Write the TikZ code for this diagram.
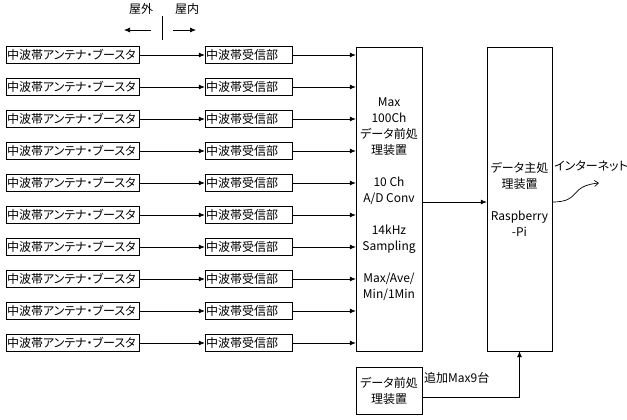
\documentclass[tikz,border=0pt]{standalone}
\usepackage{fontspec}
\setmainfont[RawFeature=+palt]{Noto Sans CJK JP}
\usetikzlibrary{arrows.meta,positioning,calc}

\begin{document}
\begin{tikzpicture}[x=1pt, y=-1pt,
  box/.style={draw, rectangle, minimum height=17pt, inner sep=1pt, font=\fontsize{12}{13}\selectfont},
  ant/.style={box, text width=131pt, align=left},
  rx/.style={box, text width=85pt, align=left},
  proc/.style={draw, rectangle, inner sep=0pt, align=center, font=\fontsize{12}{16}\selectfont},
  lbl/.style={inner sep=0pt, font=\fontsize{12}{13}\selectfont},
  arr/.style={-{Latex[length=6pt,width=5pt]}, line width=0.7pt}
]
\useasboundingbox (0,0) rectangle (627,420);

% processing units
\node[proc, minimum width=66pt, minimum height=304pt] (pre) at (389,199)
  {Max\\100Ch\\データ前処\\理装置\\[16pt]10 Ch\\A/D Conv\\[16pt]14kHz\\Sampling\\[16pt]Max/Ave/\\Min/1Min};
\node[proc, minimum width=65pt, minimum height=304pt] (main) at (519.5,199)
  {データ主処\\理装置\\[16pt]Raspberry\\-Pi};
\node[proc, minimum width=66pt, minimum height=47pt] (pre2) at (389,390.5) {データ前処\\理装置};

% antenna / receiver rows
\foreach \i [evaluate=\i as \y using 23+32*\i] in {1,...,10} {
  \node[ant] (ant\i) at (72.5,\y) {中波帯アンテナ・ブースタ};
  \node[rx] (rx\i) at (248.5,\y) {中波帯受信部};
  \draw[arr] (ant\i) -- (rx\i);
  \draw[arr] (rx\i) -- (rx\i -| pre.west);
}

\draw[arr] ([yshift=-3pt]pre.east) -- ([yshift=-3pt]main.west);

% internet
\node[lbl, anchor=west] (net) at (554,166) {インターネット};
\coordinate (nettip) at (599,183);
\draw[-{Straight Barb[length=4pt,width=6pt]}, line width=0.7pt] ([yshift=-3pt]main.east)
  .. controls (582,202) and (568,186) .. (nettip);

% extra units
\draw[arr] ([yshift=-6.5pt]pre2.east) -| (main.south);
\node[lbl, anchor=west] (extra) at (424,378) {追加Max9台};

% outdoor / indoor
\node[lbl] (outdoor) at (141,9) {屋外};
\node[lbl] (indoor) at (187,9) {屋内};
\coordinate (div) at (162,16);
\coordinate (divb) at (162,40);
\draw[line width=0.7pt] (div) -- (divb);
\coordinate (lft) at (124,30);
\coordinate (rgt) at (196,30);
\draw[arr] (151,30) -- (lft);
\draw[arr] (173,30) -- (rgt);
\end{tikzpicture}
\end{document}
